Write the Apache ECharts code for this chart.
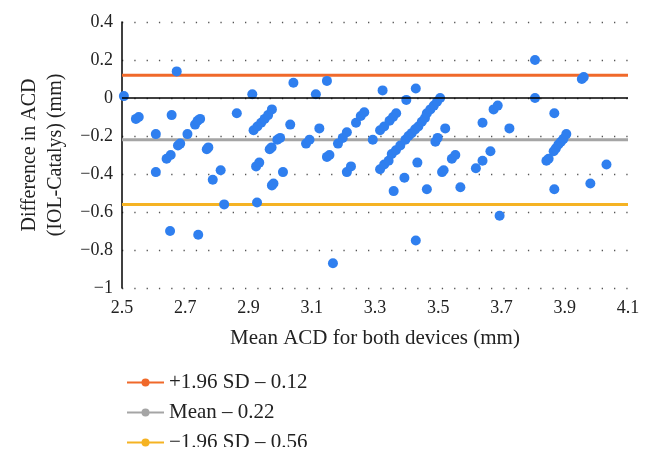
<!DOCTYPE html>
<html>
<head>
<meta charset="utf-8">
<script src="https://cdn.jsdelivr.net/npm/echarts@6/dist/echarts.min.js"></script>
<style>
html,body{margin:0;padding:0;background:#fff;}
#c{width:654px;height:461px;}
</style>
</head>
<body>
<div id="c"></div>
<script>
// Mean ACD for both devices (mm)
const meanACD = [
  2.506, 2.544, 2.553, 2.607, 2.607, 2.657, 2.673, 2.641, 2.654, 2.677, 2.684, 2.652,
  2.707, 2.731, 2.739, 2.747, 2.741, 2.768, 2.773, 2.787, 2.812, 2.823, 2.863, 2.912,
  2.916, 2.928, 2.940, 2.951, 2.962, 2.974, 2.924, 2.934, 2.927, 2.967, 2.973, 2.974,
  2.979, 2.991, 3.000, 3.009, 3.032, 3.042, 3.082, 3.093, 3.113, 3.124, 3.148, 3.148,
  3.156, 3.167, 3.183, 3.198, 3.211, 3.211, 3.224, 3.240, 3.255, 3.266, 3.293, 3.324,
  3.316, 3.329, 3.346, 3.357, 3.367, 3.316, 3.329, 3.343, 3.359, 3.353, 3.366, 3.380,
  3.393, 3.399, 3.396, 3.406, 3.416, 3.427, 3.437, 3.448, 3.458, 3.429, 3.434, 3.429,
  3.464, 3.475, 3.486, 3.496, 3.506, 3.464, 3.491, 3.498, 3.522, 3.512, 3.517, 3.543,
  3.554, 3.570, 3.619, 3.640, 3.640, 3.665, 3.675, 3.688, 3.694, 3.725, 3.806, 3.806,
  3.842, 3.849, 3.867, 3.865, 3.872, 3.880, 3.888, 3.896, 3.905, 3.867, 3.954, 3.960,
  3.981, 4.032
];
// Difference in ACD (IOL-Catalys) (mm)
const diffACD = [
  0.01, -0.11, -0.10, -0.19, -0.39, -0.09, 0.14, -0.32, -0.30, -0.25, -0.24, -0.70,
  -0.19, -0.14, -0.12, -0.11, -0.72, -0.27, -0.26, -0.43, -0.38, -0.56, -0.08, 0.02,
  -0.17, -0.15, -0.13, -0.11, -0.09, -0.06, -0.36, -0.34, -0.55, -0.27, -0.26, -0.46,
  -0.45, -0.22, -0.21, -0.39, -0.14, 0.08, -0.24, -0.22, 0.02, -0.16, 0.09, -0.31,
  -0.30, -0.87, -0.24, -0.21, -0.18, -0.39, -0.36, -0.13, -0.095, -0.075, -0.22, 0.04,
  -0.17, -0.15, -0.12, -0.10, -0.08, -0.375, -0.35, -0.33, -0.49, -0.295, -0.275, -0.25,
  -0.42, -0.01, -0.22, -0.20, -0.185, -0.165, -0.15, -0.125, -0.105, 0.05, -0.34, -0.75,
  -0.08, -0.06, -0.04, -0.02, 0.00, -0.48, -0.23, -0.21, -0.16, -0.39, -0.38, -0.32,
  -0.30, -0.47, -0.37, -0.33, -0.13, -0.28, -0.06, -0.04, -0.62, -0.16, 0.20, 0.00,
  -0.33, -0.32, -0.08, -0.28, -0.265, -0.245, -0.23, -0.215, -0.19, -0.48, 0.10, 0.11,
  -0.45, -0.35
];
// Limits of agreement
const upperLimit = 0.12;
const meanDiff = -0.22;
const lowerLimit = -0.56;
const limitRange = [2.5, 4.1];
const legendNames = ['+1.96 SD \u2013 0.12', 'Mean \u2013 0.22', '\u22121.96 SD \u2013 0.56'];

const FONT = '"Liberation Serif", "DejaVu Serif", serif';
const scatterData = meanACD.map((x, i) => [x, diffACD[i]]);
const limitLine = (v) => limitRange.map(x => [x, v]);

const chart = echarts.init(document.getElementById('c'), null, {renderer: 'canvas'});
const fmtY = v => {
  const a = parseFloat(Math.abs(v).toFixed(2));
  return v < -1e-9 ? '\u2212' + a : String(a);
};
const lineSeries = (name, v, color) => ({
  name: name,
  type: 'line',
  data: limitLine(v),
  symbol: 'circle',
  symbolSize: 8,
  showSymbol: false,
  silent: true,
  lineStyle: {color: color, width: 3},
  itemStyle: {color: color},
  z: 3
});

chart.setOption({
  animation: false,
  backgroundColor: '#fff',
  grid: {left: 122, right: 26, top: 22, bottom: 173},
  xAxis: {
    type: 'value',
    min: 2.5, max: 4.1, interval: 0.2,
    name: 'Mean ACD for both devices (mm)',
    nameLocation: 'middle',
    nameGap: 40,
    nameTextStyle: {fontFamily: FONT, fontSize: 21, color: '#222'},
    axisLine: {show: false},
    axisTick: {show: false},
    splitLine: {show: false},
    axisLabel: {fontFamily: FONT, fontSize: 18, color: '#222', margin: 11,
      formatter: v => v.toFixed(1)}
  },
  yAxis: {
    type: 'value',
    min: -1, max: 0.4, interval: 0.2,
    name: 'Difference in ACD\n(IOL-Catalys) (mm)',
    nameLocation: 'middle',
    nameGap: 53,
    nameTextStyle: {fontFamily: FONT, fontSize: 20, color: '#222', lineHeight: 26},
    axisLine: {show: true, onZero: false, lineStyle: {color: '#000', width: 1.5}},
    axisTick: {show: false},
    axisLabel: {fontFamily: FONT, fontSize: 18, color: '#222', margin: 9, formatter: fmtY},
    splitLine: {show: true, lineStyle: {color: '#555', width: 1.3, type: [1.3, 11]}}
  },
  legend: {
    data: legendNames,
    orient: 'vertical',
    left: 121,
    top: 367,
    height: 120,
    itemWidth: 37,
    itemHeight: 10,
    itemGap: 9,
    textStyle: {fontFamily: FONT, fontSize: 21, lineHeight: 21, color: '#222'}
  },
  graphic: [{
    type: 'rect',
    z: 100,
    shape: {x: 0, y: 447, width: 654, height: 14},
    style: {fill: '#fff'}
  }],
  series: [
    {
      type: 'scatter',
      data: scatterData,
      symbolSize: 10,
      itemStyle: {color: '#2f7fef', opacity: 1},
      z: 4,
      markLine: {
        silent: true,
        symbol: 'none',
        label: {show: false},
        lineStyle: {color: '#000', width: 1.5, type: 'solid'},
        data: [{yAxis: 0}]
      }
    },
    lineSeries(legendNames[0], upperLimit, '#f0692a'),
    lineSeries(legendNames[1], meanDiff, '#a5a5a5'),
    lineSeries(legendNames[2], lowerLimit, '#f5b323')
  ]
});
</script>
</body>
</html>
